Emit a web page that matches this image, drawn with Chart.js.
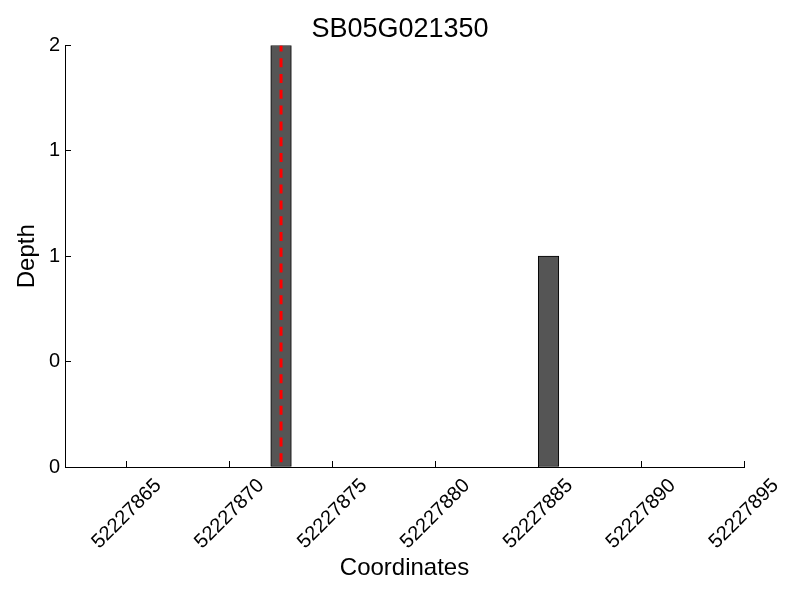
<!DOCTYPE html>
<html><head><meta charset="utf-8">
<script src="https://cdn.jsdelivr.net/npm/chart.js@4.4.1/dist/chart.umd.min.js"></script>
<style>html,body{margin:0;padding:0;background:#fff}canvas{display:block}</style>
</head><body>
<canvas id="c" width="800" height="600"></canvas>
<script>
const chartTitle = "SB05G021350";
const xAxisTitle = "Coordinates";
const yAxisTitle = "Depth";
const binStarts = [52227872, 52227885];
const depths = [2, 1];
const binWidth = 1;
const markerPosition = 52227872.5;
const xRange = [52227862, 52227895];
const xTickValues = [52227865, 52227870, 52227875, 52227880, 52227885, 52227890, 52227895];
const yRange = [0, 2];
const yTickValues = [0, 0.5, 1, 1.5, 2];
const yTickLabels = ["0", "0", "1", "1", "2"];

const FONT = "'Liberation Sans', Arial, Helvetica, sans-serif";

const barPoints = binStarts.map((s, i) => ({x: s + binWidth / 2, y: depths[i]}));
const markerPoints = [{x: markerPosition, y: yRange[1]}, {x: markerPosition, y: yRange[0]}];

const xLabelPlugin = {
  id: 'xLabels',
  afterDraw(chart) {
    const xs = chart.scales.x; const ctx = chart.ctx;
    ctx.save();
    ctx.font = "20px " + FONT;
    ctx.fillStyle = '#000';
    ctx.textAlign = 'center'; ctx.textBaseline = 'middle';
    xs.ticks.forEach(t => {
      const px = xs.getPixelForValue(t.value);
      ctx.save();
      ctx.translate(px, xs.top + 47);
      ctx.rotate(-Math.PI / 4);
      ctx.fillText(String(t.value), 0, 0);
      ctx.restore();
    });
    ctx.restore();
  }
};

new Chart(document.getElementById('c'), {
  type: 'bar',
  data: { datasets: [
    { type: 'bar', data: barPoints, backgroundColor: '#555555', borderColor: '#000000', borderWidth: 1,
      borderSkipped: false, order: 1,
      barThickness: (ctx) => {
        const xs = ctx.chart.scales.x;
        return Math.abs(xs.getPixelForValue(xRange[0] + binWidth) - xs.getPixelForValue(xRange[0]));
      } },
    { type: 'line', data: markerPoints, borderColor: '#ff0000', borderWidth: 3, borderDash: [9, 6.8],
      borderDashOffset: 3, pointRadius: 0, fill: false, order: 0 }
  ]},
  options: {
    responsive: false, animation: false,
    layout: { padding: 0 },
    plugins: {
      legend: { display: false }, tooltip: { enabled: false },
      title: { display: true, text: chartTitle, color: '#000', font: { family: FONT, size: 27, weight: 'normal' },
               padding: { top: 13, bottom: 0 } }
    },
    scales: {
      x: { type: 'linear', min: xRange[0], max: xRange[1], offset: false,
        afterBuildTicks: s => { s.ticks = xTickValues.map(v => ({value: v})); },
        afterFit: s => { s.height = 133; },
        ticks: { display: false },
        grid: { display: true, drawOnChartArea: false, drawTicks: true, tickLength: -6, color: '#000', lineWidth: 1, offset: false },
        border: { display: true, color: '#000', width: 1 },
        title: { display: true, text: xAxisTitle, color: '#000', font: { family: FONT, size: 24 }, padding: { top: 0, bottom: 17.6 } }
      },
      y: { type: 'linear', min: yRange[0], max: yRange[1],
        afterBuildTicks: s => { s.ticks = yTickValues.map(v => ({value: v})); },
        afterFit: s => { s.width = 65; },
        ticks: { callback: (v, i) => yTickLabels[i], color: '#000', font: { family: FONT, size: 20 }, padding: 11, autoSkip: false },
        grid: { drawOnChartArea: false, drawTicks: true, tickLength: -6, color: '#000', lineWidth: 1 },
        border: { display: true, color: '#000', width: 1 },
        title: { display: true, text: yAxisTitle, color: '#000', font: { family: FONT, size: 24 }, padding: { top: 12.6, bottom: 0 } }
      },
      yRight: { type: 'linear', position: 'right', display: true,
        afterFit: s => { s.width = 56; },
        ticks: { display: false },
        grid: { display: false, drawTicks: false },
        border: { display: false }
      }
    }
  },
  plugins: [xLabelPlugin]
});
</script>
</body></html>
